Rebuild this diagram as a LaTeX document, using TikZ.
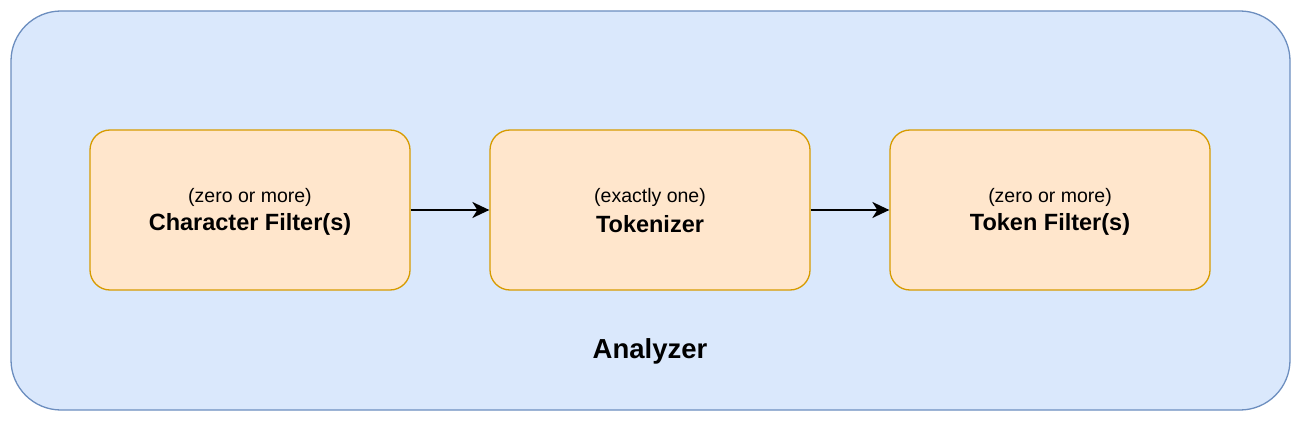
\documentclass[tikz,border=0pt]{standalone}
\usepackage{fontspec}
\setmainfont{Liberation Sans}
\usetikzlibrary{arrows.meta}
\definecolor{bluefill}{HTML}{DAE8FC}
\definecolor{bluedraw}{HTML}{6C8EBF}
\definecolor{orfill}{HTML}{FFE6CC}
\definecolor{ordraw}{HTML}{D79B00}
\begin{document}
\begin{tikzpicture}[x=1pt,y=-1pt,
  outerbox/.style={draw=bluedraw,fill=bluefill,line width=1.3pt,rounded corners=50pt},
  stagebox/.style={draw=ordraw,fill=orfill,line width=1.3pt,rounded corners=20pt,minimum width=320pt,minimum height=160pt,inner sep=0pt},
  flow/.style={-{Stealth[length=17pt,width=16pt,inset=5pt]},line width=2pt,black},
  small/.style={font=\fontsize{19.5}{23}\selectfont},
  big/.style={font=\fontsize{23.5}{28}\selectfont\bfseries}]
\useasboundingbox (0,0) rectangle (1301,422);
\draw[outerbox] (11,11) rectangle (1290,410);
\node[stagebox] (cf) at (250,210) {};
\node[stagebox] (tk) at (650,210) {};
\node[stagebox] (tf) at (1050,210) {};
\node[small] (cft) at (250,197) {(zero or more)};
\node[big] (cfb) at (250,224) {Character Filter(s)};
\node[small] (tkt) at (650,197) {(exactly one)};
\node[big] (tkb) at (650,224) {Tokenizer};
\node[small] (tft) at (1050,197) {(zero or more)};
\node[big] (tfb) at (1050,224) {Token Filter(s)};
\node[font=\fontsize{27.5}{32}\selectfont\bfseries] (an) at (650,351) {Analyzer};
\draw[flow] (cf.east) -- (tk.west);
\draw[flow] (tk.east) -- (tf.west);
\end{tikzpicture}
\end{document}
